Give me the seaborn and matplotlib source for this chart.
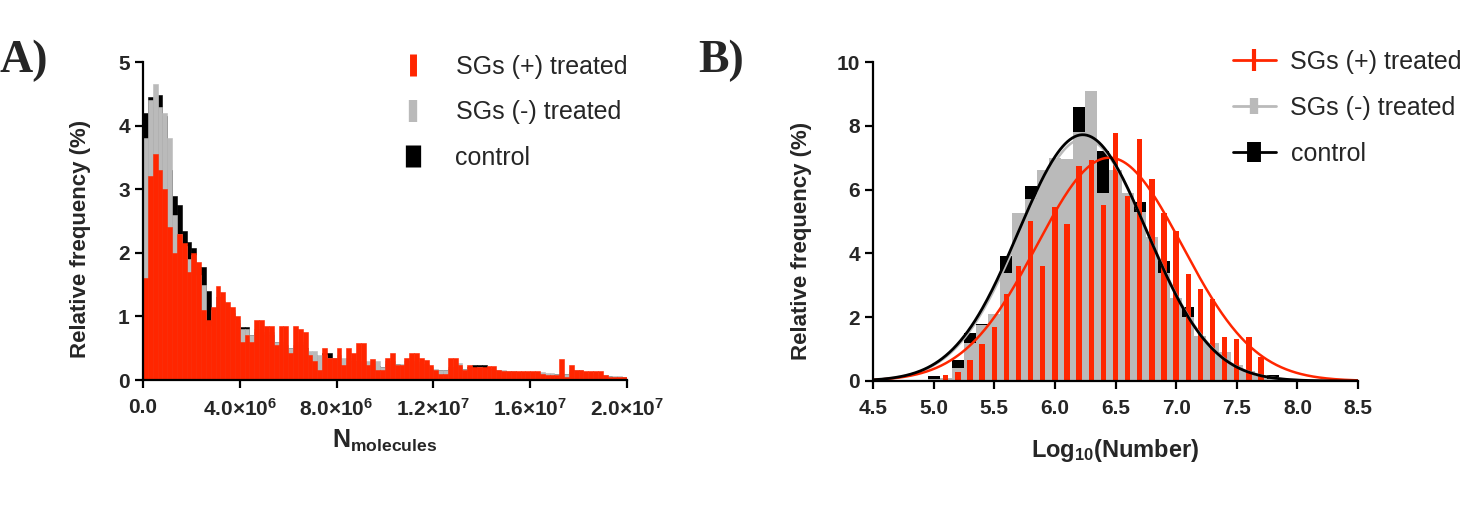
import numpy as np
import pandas as pd
import matplotlib
matplotlib.use("Agg")
import matplotlib.pyplot as plt
from matplotlib.lines import Line2D
import seaborn as sns

# ---- panel A: N_molecules histogram, bins of 2e5 from 0 to 2e7 (values in %)
a_binwidth = 2e5
a_red = [1.6, 3.2, 3.55, 3.3, 3.0, 2.4, 2.0, 2.3, 2.15, 1.7,
         2.0, 1.85, 1.1, 0.95, 1.15, 1.48, 1.38, 1.22, 1.15, 1.0,
         0.6, 0.7, 0.6, 0.94, 0.94, 0.85, 0.85, 0.55, 0.85, 0.85,
         0.42, 0.85, 0.8, 0.76, 0.4, 0.3, 0.16, 0.5, 0.34, 0.34,
         0.5, 0.24, 0.5, 0.42, 0.58, 0.58, 0.24, 0.33, 0.16, 0.16,
         0.34, 0.42, 0.24, 0.24, 0.34, 0.42, 0.42, 0.34, 0.31, 0.24,
         0.16, 0.1, 0.1, 0.34, 0.34, 0.24, 0.16, 0.24, 0.21, 0.21,
         0.21, 0.22, 0.22, 0.16, 0.14, 0.14, 0.14, 0.14, 0.14, 0.14,
         0.14, 0.14, 0.09, 0.08, 0.08, 0.08, 0.33, 0.05, 0.23, 0.16,
         0.16, 0.14, 0.14, 0.14, 0.14, 0.08, 0.05, 0.05, 0.05, 0.05]
a_grey = [3.8, 4.4, 4.66, 4.3, 4.2, 3.8, 2.6, 2.3, 2.1, 1.9,
          1.96, 1.65, 1.5, 0.85, 1.1, 1.3, 1.25, 1.15, 1.1, 0.95,
          0.8, 0.8, 0.7, 0.8, 0.75, 0.7, 0.75, 0.6, 0.6, 0.55,
          0.5, 0.55, 0.6, 0.5, 0.45, 0.45, 0.4, 0.4, 0.35, 0.35,
          0.4, 0.35, 0.35, 0.3, 0.3, 0.3, 0.3, 0.28, 0.3, 0.2,
          0.3, 0.3, 0.25, 0.25, 0.3, 0.3, 0.28, 0.25, 0.25, 0.2,
          0.18, 0.15, 0.15, 0.2, 0.2, 0.26, 0.18, 0.2, 0.18, 0.2,
          0.18, 0.18, 0.16, 0.15, 0.15, 0.14, 0.14, 0.13, 0.13, 0.12,
          0.12, 0.12, 0.12, 0.11, 0.11, 0.1, 0.1, 0.1, 0.15, 0.15,
          0.15, 0.1, 0.1, 0.08, 0.08, 0.08, 0.06, 0.06, 0.06, 0.05]
a_black = [4.2, 4.45, 4.3, 4.48, 4.15, 3.3, 2.9, 2.75, 2.35, 2.17,
           2.07, 1.78, 1.78, 1.4, 1.1, 1.3, 1.2, 1.1, 1.05, 0.9,
           0.84, 0.84, 0.7, 0.75, 0.7, 0.7, 0.7, 0.6, 0.55, 0.5,
           0.5, 0.5, 0.55, 0.5, 0.4, 0.4, 0.35, 0.42, 0.42, 0.35,
           0.35, 0.32, 0.3, 0.3, 0.28, 0.28, 0.26, 0.25, 0.22, 0.2,
           0.25, 0.25, 0.25, 0.22, 0.25, 0.25, 0.22, 0.2, 0.2, 0.18,
           0.16, 0.15, 0.15, 0.18, 0.18, 0.2, 0.18, 0.2, 0.23, 0.23,
           0.23, 0.18, 0.16, 0.14, 0.14, 0.13, 0.13, 0.12, 0.12, 0.12,
           0.11, 0.11, 0.1, 0.1, 0.1, 0.1, 0.1, 0.1, 0.12, 0.12,
           0.1, 0.1, 0.08, 0.08, 0.07, 0.07, 0.06, 0.05, 0.05, 0.05]
a_xticks = [0, 4e6, 8e6, 1.2e7, 1.6e7, 2e7]
a_xticklabels = ["0.0", r"$4.0{\times}10^{6}$", r"$8.0{\times}10^{6}$",
                 r"$1.2{\times}10^{7}$", r"$1.6{\times}10^{7}$", r"$2.0{\times}10^{7}$"]

# ---- panel B: log10(number) histogram, bins of 0.1 centred on these values
b_centers = [5.0, 5.1, 5.2, 5.3, 5.4, 5.5, 5.6, 5.7, 5.8, 5.9,
             6.0, 6.1, 6.2, 6.3, 6.4, 6.5, 6.6, 6.7, 6.8, 6.9,
             7.0, 7.1, 7.2, 7.3, 7.4, 7.5, 7.6, 7.7, 7.8, 7.9]
b_red = [0.0, 0.18, 0.28, 0.65, 1.17, 1.69, 2.73, 3.61, 5.02, 3.60,
         5.44, 4.92, 6.75, 6.93, 5.53, 7.78, 5.80, 7.60, 6.32, 5.28,
         4.70, 3.35, 2.88, 2.57, 1.38, 1.32, 1.38, 0.75, 0.0, 0.0]
b_grey = [0.05, 0.10, 0.40, 1.20, 1.75, 2.10, 3.40, 5.28, 5.70, 6.63,
          7.00, 6.95, 7.80, 9.10, 5.90, 6.60, 5.90, 5.30, 4.50, 3.40,
          2.60, 2.00, 1.40, 1.20, 0.90, 0.50, 0.30, 0.15, 0.05, 0.0]
b_black = [0.15, 0.10, 0.65, 1.50, 1.80, 2.00, 3.93, 4.80, 6.10, 6.30,
           6.70, 6.80, 8.60, 8.00, 7.20, 6.30, 5.70, 5.60, 4.30, 3.77,
           2.50, 2.33, 1.42, 0.80, 0.60, 0.44, 0.25, 0.10, 0.20, 0.0]
# gaussian fits (amplitude, mean, sd)
fit_red = (7.0, 6.45, 0.60)
fit_grey = (7.6, 6.24, 0.53)
fit_black = (7.72, 6.23, 0.53)

labels = ["SGs (+) treated", "SGs (-) treated", "control"]
RED, GREY, BLACK = "#ff2600", "#bababa", "#000000"

sns.set_style("ticks")
plt.rcParams["font.family"] = ["Liberation Sans", "DejaVu Sans"]
plt.rcParams["mathtext.fontset"] = "custom"
plt.rcParams["mathtext.rm"] = "Liberation Sans:bold"
plt.rcParams["mathtext.bf"] = "Liberation Sans:bold"
plt.rcParams["mathtext.it"] = "Liberation Sans:bold"

fig = plt.figure(figsize=(14.77, 5.14), dpi=100)
axA = fig.add_axes([143 / 1477, 134 / 514, 484 / 1477, 318 / 514])
axB = fig.add_axes([873 / 1477, 133 / 514, 485 / 1477, 319 / 514])

TICK_FS, LABEL_FS, LEG_FS = 15, 16, 18


def style_axis(ax):
    sns.despine(ax=ax)
    for side in ("left", "bottom"):
        ax.spines[side].set_linewidth(1.6)
        ax.spines[side].set_color("black")
    ax.tick_params(length=6, width=1.6, labelsize=TICK_FS, color="black")
    ax.tick_params(axis="x", pad=7)
    for t in ax.get_xticklabels() + ax.get_yticklabels():
        t.set_fontweight("bold")


# panel A
a_edges = [i * a_binwidth for i in range(len(a_red) + 1)]
a_centers = [e + a_binwidth / 2 for e in a_edges[:-1]]
for vals, col in ((a_black, BLACK), (a_grey, GREY), (a_red, RED)):
    df = pd.DataFrame({"x": a_centers, "w": vals})
    sns.histplot(data=df, x="x", weights="w", bins=a_edges, element="bars",
                 fill=True, color=col, alpha=1, linewidth=0.4, edgecolor=col, ax=axA)
axA.set_xlim(0, 2e7)
axA.set_ylim(0, 5)
axA.set_yticks(range(6))
axA.set_xticks(a_xticks, a_xticklabels)
axA.set_ylabel("Relative frequency (%)", fontsize=LABEL_FS, fontweight="bold")
axA.yaxis.set_label_coords(-0.108, 0.445)
axA.set_xlabel(r"$\mathrm{N}_{\mathrm{molecules}}$", fontsize=LABEL_FS + 2, labelpad=6)
style_axis(axA)

handlesA = [Line2D([], [], ls="none", marker="|", ms=16, mew=5, color=RED),
            Line2D([], [], ls="none", marker="|", ms=16, mew=6, color=GREY),
            Line2D([], [], ls="none", marker="|", ms=16, mew=11, color=BLACK)]
fig.legend(handlesA, labels, loc="upper left", bbox_to_anchor=(388 / 1477, 0.893),
           frameon=False, fontsize=LEG_FS, handlelength=2.0, handletextpad=0.7,
           labelspacing=0.86, borderpad=0, borderaxespad=0)

# panel B
half = 0.05
b_edges = [c - half for c in b_centers] + [b_centers[-1] + half]
for vals, col, shrink in ((b_black, BLACK, 1.0), (b_grey, GREY, 1.0), (b_red, RED, 0.45)):
    df = pd.DataFrame({"x": b_centers, "w": vals})
    sns.histplot(data=df, x="x", weights="w", bins=b_edges, shrink=shrink, element="bars",
                 fill=True, color=col, alpha=1, linewidth=0, ax=axB)

xs = np.linspace(4.5, 8.5, 400)
for (amp, mu, sd), col, lw in ((fit_grey, GREY, 1.8), (fit_red, RED, 1.8), (fit_black, BLACK, 2.0)):
    sns.lineplot(x=xs, y=amp * np.exp(-(xs - mu) ** 2 / (2 * sd ** 2)),
                 color=col, lw=lw, ax=axB)

axB.set_xlim(4.5, 8.5)
axB.set_ylim(0, 10)
axB.set_yticks(range(0, 11, 2))
axB.set_xticks(np.arange(4.5, 8.51, 0.5))
axB.xaxis.set_major_formatter(matplotlib.ticker.FormatStrFormatter("%.1f"))
axB.set_ylabel("Relative frequency (%)", fontsize=LABEL_FS, fontweight="bold")
axB.yaxis.set_label_coords(-0.125, 0.44)
axB.set_xlabel(r"Log$_{10}$(Number)", fontsize=LABEL_FS + 1, fontweight="bold", labelpad=14)
style_axis(axB)

handlesB = [Line2D([], [], lw=2, marker="|", ms=16, mew=3, color=RED),
            Line2D([], [], lw=2, marker="|", ms=11, mew=6, color=GREY),
            Line2D([], [], lw=2, marker="|", ms=15, mew=10, color=BLACK)]
fig.legend(handlesB, labels, loc="upper left", bbox_to_anchor=(1233 / 1477, 0.903),
           frameon=False, fontsize=LEG_FS, handlelength=1.7, handletextpad=0.6,
           labelspacing=0.88, borderpad=0, borderaxespad=0)

# panel letters
fig.text(0.0, 1 - 72 / 514, "A)", family="Liberation Serif", fontweight="bold", fontsize=33)
fig.text(698 / 1477, 1 - 72 / 514, "B)", family="Liberation Serif", fontweight="bold", fontsize=33)

fig.savefig("out.png", dpi=100)
